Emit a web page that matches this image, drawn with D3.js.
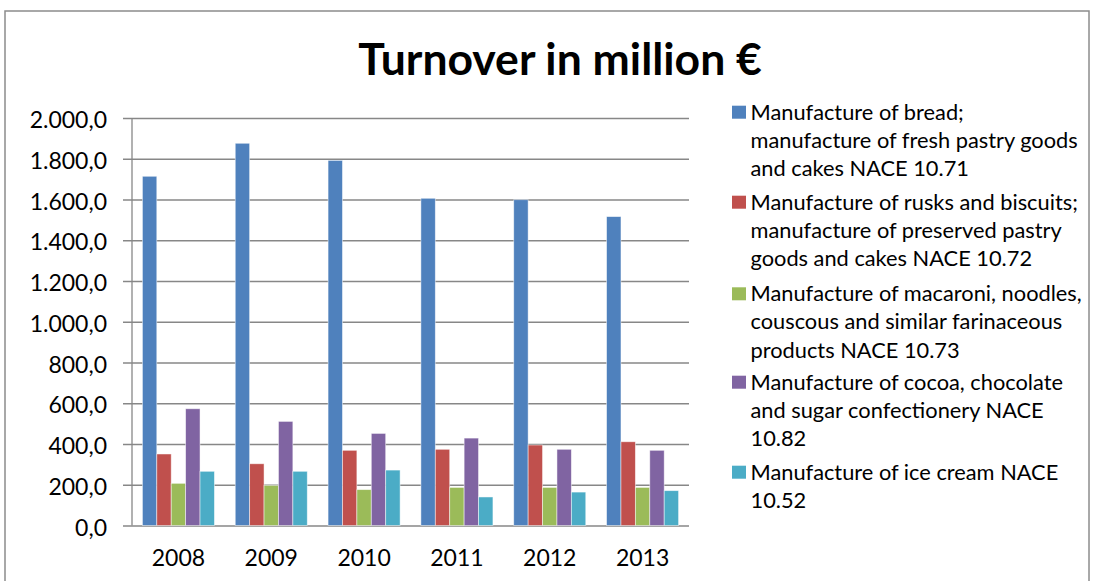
<!DOCTYPE html>
<html><head><meta charset="utf-8">
<script src="https://cdn.jsdelivr.net/npm/d3@7"></script>
<style>body{margin:0;background:#fff}svg{display:block}text{font-family:Lato,"Open Sans",sans-serif}</style>
</head><body><svg id="c" width="1093" height="581"></svg>
<script>
const years = ["2008","2009","2010","2011","2012","2013"];
const seriesNames = [
  ["Manufacture of bread;","manufacture of fresh pastry goods","and cakes NACE 10.71"],
  ["Manufacture of rusks and biscuits;","manufacture of preserved pastry","goods and cakes NACE 10.72"],
  ["Manufacture of macaroni, noodles,","couscous and similar farinaceous","products NACE 10.73"],
  ["Manufacture of cocoa, chocolate","and sugar confectionery NACE","10.82"],
  ["Manufacture of ice cream NACE","10.52"]
];
const bread = [1714, 1876, 1792, 1606, 1599, 1516];
const rusks = [351, 303, 369, 374, 395, 411];
const macaroni = [207, 197, 176, 187, 187, 187];
const cocoa = [573, 511, 452, 429, 374, 369];
const iceCream = [266, 266, 272, 140, 164, 171];
const yTicks = [0,200,400,600,800,1000,1200,1400,1600,1800,2000];
const colors = ["#4f81bd","#c0504d","#9bbb59","#8064a2","#4bacc6"];
const allSeries = [bread, rusks, macaroni, cocoa, iceCream];

const svg = d3.select("#c");
svg.append("rect").attr("x",5).attr("y",11).attr("width",1084).attr("height",600)
  .attr("fill","#fff").attr("stroke","#8c8c8c").attr("stroke-width",1.5);

svg.append("text").attr("x",560).attr("y",75).attr("text-anchor","middle")
  .style("font-size","44.5px").style("font-weight","bold").attr("fill","#000")
  .text("Turnover in million €");

const pL=132, pR=689, pT=118, pB=525.5;
const y = d3.scaleLinear().domain([0,2000]).range([pB,pT]);
const x0 = d3.scaleBand().domain(years).range([pL,pR]).paddingInner(0.224).paddingOuter(0.112);
const x1 = d3.scaleBand().domain(d3.range(5)).range([0,x0.bandwidth()]);
const fmt = v => d3.format(",.1f")(v).replace(/,/g,"#").replace(/\./g,",").replace(/#/g,".");

const yAxis = d3.axisLeft(y).tickValues(yTicks).tickSize(pR-pL+9).tickFormat(fmt);
const ga = svg.append("g").attr("transform",`translate(${pR},0)`).call(yAxis);
ga.select(".domain").remove();
ga.selectAll(".tick line").attr("stroke","#878787").attr("stroke-width",1.3);
ga.selectAll(".tick text").attr("x",-(pR-pL)-25).attr("dy","0.42em")
  .style("font-size","23px").attr("fill","#000").style("font-family","Lato,sans-serif");

svg.append("line").attr("x1",pL).attr("x2",pL).attr("y1",pT).attr("y2",pB)
  .attr("stroke","#878787").attr("stroke-width",1.3);

const gx = svg.append("g").attr("transform",`translate(0,${pB})`)
  .call(d3.axisBottom(x0).tickSize(0));
gx.select(".domain").remove();
gx.selectAll("text").attr("y",40.5).attr("dy","0").style("font-size","23px").attr("fill","#000").style("font-family","Lato,sans-serif");

years.forEach((yr,i)=>{
  allSeries.forEach((s,j)=>{
    svg.append("rect").attr("x",x0(yr)+x1(j)).attr("width",x1.bandwidth())
      .attr("y",y(s[i])).attr("height",pB-y(s[i]))
      .attr("fill",colors[j]).attr("stroke","#ffffff").attr("stroke-opacity",0.6).attr("stroke-width",0.8);
  });
});

const lg = svg.append("g");
const groupTops = [111.7, 201.7, 293.3, 381.7, 471.7];
seriesNames.forEach((lines,j)=>{
  lg.append("rect").attr("x",732).attr("y",groupTops[j]-6).attr("width",14).attr("height",13).attr("fill",colors[j]);
  lines.forEach((t,k)=>{
    lg.append("text").attr("x",750.5).attr("y",groupTops[j]+k*28.3).attr("dy","0.36em")
      .style("font-size","21.8px").attr("fill","#000").text(t);
  });
});
</script></body></html>
